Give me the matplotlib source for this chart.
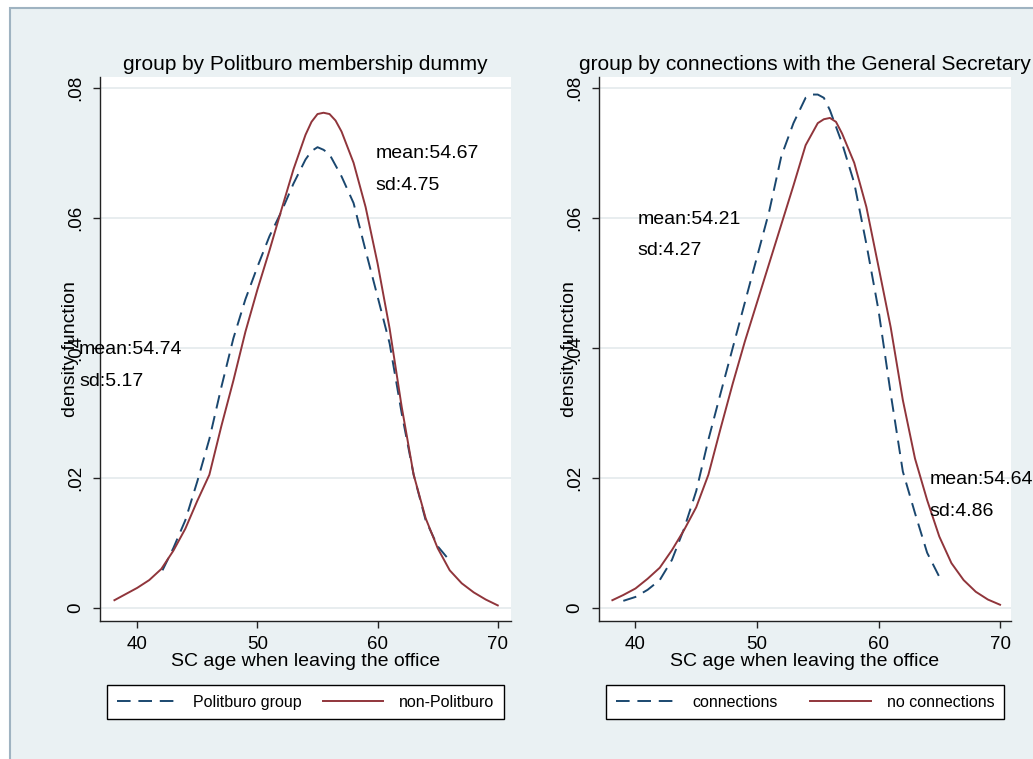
import numpy as np
import matplotlib.pyplot as plt
from matplotlib.patches import Rectangle

# left panel: Politburo membership dummy
pb_x = [42.1, 43, 44, 45, 46, 47, 48, 49, 50, 51, 52, 53, 54, 54.5, 55, 55.5, 56,
        57, 58, 59, 60, 61, 62, 63, 64, 65, 65.9]
pb_y = [0.0058, 0.0092, 0.0135, 0.0195, 0.026, 0.034, 0.0415, 0.0475, 0.0525, 0.0572,
        0.061, 0.0653, 0.069, 0.0703, 0.0709, 0.0705, 0.0698, 0.0664, 0.0623, 0.055,
        0.0479, 0.0407, 0.030, 0.0205, 0.0135, 0.0095, 0.0075]
npb_x = [38.1, 39, 40, 41, 42, 43, 44, 45, 46, 47, 48, 49, 50, 51, 52, 53, 54, 54.5,
         55, 55.5, 56, 56.5, 57, 58, 59, 60, 61, 62, 63, 64, 65, 66, 67, 68, 69, 70]
npb_y = [0.0012, 0.0021, 0.0031, 0.0043, 0.006, 0.0088, 0.0122, 0.0165, 0.0205,
         0.028, 0.035, 0.0425, 0.049, 0.055, 0.0613, 0.0675, 0.0728, 0.0748, 0.076,
         0.0762, 0.076, 0.075, 0.0733, 0.0685, 0.0617, 0.053, 0.043, 0.031, 0.0205,
         0.0138, 0.0092, 0.0058, 0.0038, 0.0024, 0.0013, 0.0004]

# right panel: connections with the General Secretary
con_x = [39, 40, 41, 42, 43, 44, 45, 46, 47, 48, 49, 50, 51, 52, 53, 54, 54.5, 55,
         55.5, 56, 57, 58, 59, 60, 61, 62, 63, 64, 65]
con_y = [0.0011, 0.0017, 0.0028, 0.0043, 0.0074, 0.0122, 0.018, 0.0259, 0.033,
         0.040, 0.047, 0.054, 0.061, 0.0695, 0.0746, 0.0785, 0.079, 0.079, 0.0785,
         0.0766, 0.0715, 0.0654, 0.056, 0.0458, 0.033, 0.021, 0.0146, 0.0085, 0.0048]
ncon_x = [38.1, 39, 40, 41, 42, 43, 44, 45, 46, 47, 48, 49, 50, 51, 52, 53, 54, 55,
          55.5, 56, 56.5, 57, 58, 59, 60, 61, 62, 63, 64, 65, 66, 67, 68, 69, 70]
ncon_y = [0.0012, 0.002, 0.003, 0.0045, 0.0062, 0.0089, 0.012, 0.0155, 0.0205,
          0.0276, 0.0345, 0.041, 0.047, 0.053, 0.059, 0.065, 0.0712, 0.0746, 0.0752,
          0.0754, 0.0748, 0.073, 0.0685, 0.0617, 0.0525, 0.0432, 0.032, 0.023,
          0.0166, 0.011, 0.0069, 0.0043, 0.0025, 0.0013, 0.0005]

xticks = [40, 50, 60, 70]
yticks = [0, 0.02, 0.04, 0.06, 0.08]
ytick_labels = ["0", ".02", ".04", ".06", ".08"]

plt.rcParams['font.family'] = ['Liberation Sans', 'DejaVu Sans']

navy = '#1a476f'
maroon = '#90353b'
bg = '#eaf1f3'

fig = plt.figure(figsize=(10.33, 7.59), dpi=100)
fig.patch.set_facecolor('white')
fig.patches.append(Rectangle((10 / 1033, -0.05), 1.0, 1.05 - 8 / 759,
                             transform=fig.transFigure, facecolor=bg,
                             edgecolor='#9fb3c1', lw=1.5, zorder=-1))

ax1 = fig.add_axes([100 / 1033, 1 - 621 / 759, 411 / 1033, 544 / 759])
ax2 = fig.add_axes([599 / 1033, 1 - 621 / 759, 412 / 1033, 544 / 759])


def style(ax, title, xlim):
    ax.set_facecolor('white')
    ax.set_xlim(xlim)
    ax.set_ylim(-0.002, 0.0817)
    for s in ['top', 'right']:
        ax.spines[s].set_visible(False)
    for s in ['left', 'bottom']:
        ax.spines[s].set_color('#222222')
        ax.spines[s].set_linewidth(1)
    ax.set_yticks(yticks)
    ax.set_yticklabels(ytick_labels, rotation=90, va='center')
    ax.set_xticks(xticks)
    ax.tick_params(axis='both', length=5, width=1, labelsize=13.5, color='#222222')
    ax.tick_params(axis='y', pad=6)
    ax.tick_params(axis='x', pad=6)
    ax.grid(axis='y', color='#e6ecee', lw=1.3)
    ax.set_axisbelow(True)
    ax.set_title(title, fontsize=15, pad=5)
    ax.set_xlabel('SC age when leaving the office', fontsize=14, labelpad=0)
    ax.set_ylabel('density function', fontsize=14)
    ax.yaxis.set_label_coords(-0.052, 0.5)


style(ax1, 'group by Politburo membership dummy', (36.9, 71.1))
style(ax2, 'group by connections with the General Secretary', (37.0, 70.9))

ax1.plot(pb_x, pb_y, color=navy, ls=(0, (7, 4)), lw=1.4, label='Politburo group')
ax1.plot(npb_x, npb_y, color=maroon, lw=1.4, label='non-Politburo')
ax2.plot(con_x, con_y, color=navy, ls=(0, (7, 4)), lw=1.4, label='connections')
ax2.plot(ncon_x, ncon_y, color=maroon, lw=1.4, label='no connections')

ax1.text(59.8, 0.0700, 'mean:54.67', fontsize=14, va='center', clip_on=False)
ax1.text(59.8, 0.0650, 'sd:4.75', fontsize=14, va='center', clip_on=False)
ax1.text(35.1, 0.0398, 'mean:54.74', fontsize=14, va='center', clip_on=False)
ax1.text(35.2, 0.0349, 'sd:5.17', fontsize=14, va='center', clip_on=False)
ax2.text(40.2, 0.0598, 'mean:54.21', fontsize=14, va='center', clip_on=False)
ax2.text(40.2, 0.0550, 'sd:4.27', fontsize=14, va='center', clip_on=False)
ax2.text(64.2, 0.0198, 'mean:54.64', fontsize=14, va='center', clip_on=False)
ax2.text(64.2, 0.0148, 'sd:4.86', fontsize=14, va='center', clip_on=False)

for ax in (ax1, ax2):
    leg = ax.legend(loc='upper left', bbox_to_anchor=(0.017, -0.2, 0.966, 0.082),
                    mode='expand', ncol=2, fontsize=11.5, frameon=True,
                    fancybox=False, edgecolor='black', framealpha=1,
                    handlelength=3.8, handletextpad=1.0, borderaxespad=0,
                    borderpad=0.6)
    leg.get_frame().set_linewidth(1)

fig.savefig('out.png', dpi=100)
